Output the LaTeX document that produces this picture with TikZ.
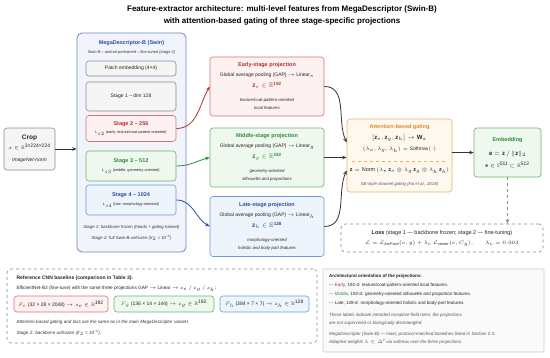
\documentclass[tikz,border=0pt]{standalone}
\usepackage{amsmath, amssymb, xcolor, tikz}
\usepackage{fontspec}
\setmainfont{Liberation Sans}
\usetikzlibrary{arrows.meta,positioning}
\definecolor{cred}{HTML}{B8322C}
\definecolor{credline}{HTML}{D9726E}
\definecolor{credfill}{HTML}{FDF1F1}
\definecolor{cgreen}{HTML}{2E8B3A}
\definecolor{cgreenline}{HTML}{6DB36D}
\definecolor{cgreenfill}{HTML}{EFF8EF}
\definecolor{cblue}{HTML}{2850A0}
\definecolor{cblueline}{HTML}{6A9AD8}
\definecolor{cbluefill}{HTML}{EEF4FC}
\definecolor{corange}{HTML}{E08A2E}
\definecolor{corangeline}{HTML}{EDB06A}
\definecolor{corangefill}{HTML}{FFF8EE}
\definecolor{cgrayline}{HTML}{8A8A8A}
\definecolor{cgrayfill}{HTML}{F5F5F5}
\definecolor{cmegaline}{HTML}{6F86B8}
\definecolor{cmegafill}{HTML}{F1F5FB}
\definecolor{cnote}{HTML}{555555}
\definecolor{cteal}{HTML}{2F7F62}

\begin{document}
\begin{tikzpicture}[
		x=1pt, y=-1pt,
		every node/.style={font=\fontsize{5}{8}\selectfont, text=black!85},
		box/.style={draw, rounded corners=3pt, line width=0.6pt, align=center, inner sep=0pt},
		greybox/.style={box, draw=cgrayline, fill=cgrayfill},
		redbox/.style={box, draw=credline, fill=credfill},
		greenbox/.style={box, draw=cgreenline, fill=cgreenfill},
		bluebox/.style={box, draw=cblueline, fill=cbluefill},
		orangebox/.style={box, draw=corangeline, fill=corangefill},
		megabox/.style={box, draw=cmegaline, fill=cmegafill, line width=0.8pt, rounded corners=5pt},
		notebox/.style={box, dashed, draw=cgrayline, fill=white, rounded corners=4pt},
		arr/.style={-{Stealth[length=4.5pt,width=3.6pt]}, line width=0.8pt, draw=black!80},
		note/.style={font=\fontsize{4.3}{8}\selectfont\itshape, text=cnote},
		]
		
		\fill[white] (0,0) rectangle (550,357);
		
		% Title
		\node[font=\fontsize{8}{12}\selectfont\bfseries, align=center, text=black] (title) at (282,15)
		{Feature-extractor architecture: multi-level features from MegaDescriptor (Swin-B)\\
			with attention-based gating of three stage-specific projections};
		
		% Crop
		\node[greybox, minimum width=51, minimum height=42] (crop) at (29.5,149)
		{{\fontsize{6.5}{8}\selectfont\bfseries Crop}\\[2pt]
			$x \in \mathbb{R}$\textsuperscript{3×224×224}\\[4pt]
			{\itshape ImageNet-norm}};
		
		% MegaDescriptor backbone
		\node[megabox, minimum width=109, minimum height=219] (mega) at (131.5,142.5) {};
		\node[font=\fontsize{5.5}{8}\selectfont\bfseries, text=cblue] (megatitle) at (131.5,43) {MegaDescriptor-B (Swin)};
		\node[note, text=black!80, font=\fontsize{4}{8}\selectfont\itshape] (megasub) at (131.5,52)
		{Swin-B -- animal-pretrained -- fine-tuned (stage 2)};
		
		\node[greybox, minimum width=90, minimum height=15] (patch) at (131,68.5) {Patch embedding (4×4)};
		\node[greybox, minimum width=90, minimum height=29] (stage1) at (131,96.5) {Stage 1 -- dim 128};
		\node[redbox, minimum width=90, minimum height=26] (stage2) at (131,128.5)
		{{\fontsize{5.5}{8}\selectfont\bfseries\color{cred} Stage 2 -- 256}\\
			{\fontsize{3.8}{8}\selectfont L$_{s2}$ (early; texture/coat-pattern-oriented)}};
		\node[greenbox, minimum width=90, minimum height=30] (stage3) at (131,166)
		{{\fontsize{5.5}{8}\selectfont\bfseries\color{cgreen} Stage 3 -- 512}\\[1pt]
			{\fontsize{3.8}{8}\selectfont L$_{s3}$ (middle; geometry-oriented)}};
		\node[bluebox, minimum width=90, minimum height=30] (stage4) at (131,200)
		{{\fontsize{5.5}{8}\selectfont\bfseries\color{cblue} Stage 4 -- 1024}\\[1pt]
			{\fontsize{3.8}{8}\selectfont L$_{s4}$ (late; morphology-oriented)}};
		
		\node[note, text=black!80] (megafreeze) at (131.5,227) {Stage 1: backbone frozen (heads + gating trained)};
		\node[note, text=black!80] (megatune) at (131.5,238) {Stage 2: full Swin-B unfrozen (lr$_2$ = 10\textsuperscript{−5})};
		
		% Projections
		\node[redbox, minimum width=114, minimum height=59] (early) at (267,86.5)
		{{\fontsize{5.5}{8}\selectfont\bfseries\color{cred} Early-stage projection}\\[2pt]
			Global average pooling (GAP) $\rightarrow$ Linear$_e$\\[3pt]
			{\fontsize{6.5}{8}\selectfont\color{cred}$\mathbf{z}_e \in \mathbb{R}$\textsuperscript{\bfseries 192}}\\[6pt]
			{\fontsize{4.3}{8}\selectfont\itshape texture/coat-pattern-oriented}\\
			{\fontsize{4.3}{8}\selectfont\itshape local features}};
		
		\node[greenbox, minimum width=114, minimum height=59] (middle) at (267,157.5)
		{{\fontsize{5.5}{8}\selectfont\bfseries\color{cgreen} Middle-stage projection}\\[2pt]
			Global average pooling (GAP) $\rightarrow$ Linear$_g$\\[3pt]
			{\fontsize{6.5}{8}\selectfont\color{cgreen}$\mathbf{z}_g \in \mathbb{R}$\textsuperscript{\bfseries 192}}\\[6pt]
			{\fontsize{4.3}{8}\selectfont\itshape geometry-oriented}\\
			{\fontsize{4.3}{8}\selectfont\itshape silhouette and proportions}};
		
		\node[bluebox, minimum width=114, minimum height=60] (late) at (267,226.5)
		{{\fontsize{5.5}{8}\selectfont\bfseries\color{cblue} Late-stage projection}\\[2pt]
			Global average pooling (GAP) $\rightarrow$ Linear$_h$\\[3pt]
			{\fontsize{6.5}{8}\selectfont\color{cblue}$\mathbf{z}_h \in \mathbb{R}$\textsuperscript{\bfseries 128}}\\[6pt]
			{\fontsize{4.3}{8}\selectfont\itshape morphology-oriented}\\
			{\fontsize{4.3}{8}\selectfont\itshape holistic and body-part features}};
		
		% Attention-based gating
		\node[orangebox, minimum width=105, minimum height=73] (gating) at (399.5,155.5)
		{{\fontsize{5.5}{8}\selectfont\bfseries\color{corange} Attention-based gating}\\[3pt]
			{\fontsize{6}{8}\selectfont$[\mathbf{z}_e, \mathbf{z}_g, \mathbf{z}_h] \rightarrow \mathbf{W}_a$}\\[3pt]
			$(\lambda_e, \lambda_g, \lambda_h) = \text{Softmax}(\cdot)$\\[13pt]
			{\fontsize{5.5}{8}\selectfont$\mathbf{z} = \text{Norm}\,(\lambda_e\,\mathbf{z}_e \oplus \lambda_g\,\mathbf{z}_g \oplus \lambda_h\,\mathbf{z}_h)$}\\[6pt]
			{\fontsize{4.3}{8}\selectfont\itshape\color{cnote} SE-style channel gating (Hu et al., 2018)}};
		\draw[dashed, draw=corangeline, line width=0.5pt]
		([xshift=5pt,yshift=-5.5pt]gating.west) -- ([xshift=-6pt,yshift=-5.5pt]gating.east);
		
		% Embedding
		\node[greenbox, minimum width=67, minimum height=49] (embed) at (507.5,152.5)
		{{\fontsize{5.5}{8}\selectfont\bfseries\color{cgreen} Embedding}\\[6pt]
			{\fontsize{6}{8}\selectfont$\mathbf{e} = \mathbf{z}\,/\,\|\mathbf{z}\|_2$}\\[4pt]
			$\mathbf{e} \in \mathbb{S}$\textsuperscript{511} $\subset \mathbb{R}$\textsuperscript{512}};
		
		% Loss
		\node[notebox, minimum width=202, minimum height=28] (loss) at (442,238)
		{{\fontsize{5.5}{8}\selectfont\textbf{Loss} (stage 1 --- backbone frozen; stage 2 --- fine-tuning)}\\[2pt]
			{\fontsize{5.5}{8}\selectfont$\mathcal{L} = \mathcal{L}_{\text{ArcFace}}(e, y) + \lambda_c\ \mathcal{L}_{\text{center}}(e, C_y),\qquad \lambda_c = 0.003$}};
		
		% Reference CNN baseline
		\node[notebox, minimum width=310, minimum height=74] (baseline) at (162,306) {};
		\node[anchor=west, font=\fontsize{5}{8}\selectfont\bfseries] (basetitle) at (13,278)
		{Reference CNN baseline (comparison in Table 3):};
		\node[anchor=west, font=\fontsize{4.7}{8}\selectfont] (baseeff) at (13,289)
		{EfficientNet-B3 (fine-tune) with the same three projections GAP $\rightarrow$ Linear $\rightarrow$ $z_e\,/\,z_g\,/\,z_h$;};
		\node[redbox, minimum width=94, minimum height=16] (basee) at (61,304)
		{{\color{cred}$F_e$} (32 × 28 × 2048) $\rightarrow z_e \in \mathbb{R}$\textsuperscript{192}};
		\node[greenbox, minimum width=100, minimum height=16] (baseg) at (164,304)
		{{\color{cgreen}$F_g$} (136 × 14 × 144) $\rightarrow z_g \in \mathbb{R}$\textsuperscript{192}};
		\node[bluebox, minimum width=89, minimum height=16] (baseh) at (264.5,304)
		{{\color{cblue}$F_h$} (384 × 7 × 7) $\rightarrow z_h \in \mathbb{R}$\textsuperscript{128}};
		\node[note, anchor=west, text=black!80, font=\fontsize{4.6}{8}\selectfont\itshape] (basegate) at (13,322)
		{Attention-based gating and loss are the same as in the main MegaDescriptor variant.};
		\node[note, anchor=west, text=black!80, font=\fontsize{4.6}{8}\selectfont\itshape] (basetune) at (13,333)
		{Stage 2: backbone unfrozen (lr$_2$ = 10\textsuperscript{−4}).};
		
		% Architectural orientation
		\node[box, draw=black!20, fill=black!2, rounded corners=1pt, minimum width=221, minimum height=83] (orient) at (433.5,310.5) {};
		\node[anchor=north west, align=left, inner sep=0pt, font=\fontsize{4.5}{9}\selectfont] (orienttext) at (329,274)
		{\textbf{Architectural orientation of the projections:}\\
			{\color{cred}---} {\color{cred}Early}, 192-d: texture/coat-pattern-oriented local features.\\
			{\color{cgreen}---} {\color{cgreen}Middle}, 192-d: geometry-oriented silhouette and proportion features.\\
			{\color{cteal}---} Late, 128-d: morphology-oriented holistic and body-part features.\\[3pt]
			{\color{cnote}\itshape These labels indicate intended receptive-field roles; the projections}\\[-1pt]
			{\color{cnote}\itshape are not supervised or biologically disentangled.}\\[2pt]
			{\color{cnote}\itshape MegaDescriptor (Swin-B) --- main; protocol-matched baselines listed in \upshape Section 2.4.}\\[-1pt]
			{\color{cnote}\itshape Adaptive weights $\lambda \in \Delta$\textsuperscript{2} via softmax over the three projections.}};
		
		% Arrows
		\draw[arr] (crop.east) -- (crop.east -| mega.west);
		\draw[arr, draw=cred] (stage2.east) to[out=0, in=240] (early.west);
		\draw[arr, draw=cgreen] (stage3.east) to[out=0, in=195] (middle.west);
		\draw[arr, draw=cblue] (stage4.east) to[out=0, in=150] (late.west);
		\draw[arr] (early.east) to[out=0, in=115] ([yshift=13pt]gating.west);
		\draw[arr] (middle.east) -- (middle.east -| gating.west);
		\draw[arr] (late.east) to[out=0, in=245] ([yshift=-15pt]gating.west);
		\draw[arr] (embed.west -| gating.east) -- (embed.west);
		\draw[arr, dashed, draw=black!45] (embed.south) -- (embed.south |- loss.north);
		
	\end{tikzpicture}
\end{document}
